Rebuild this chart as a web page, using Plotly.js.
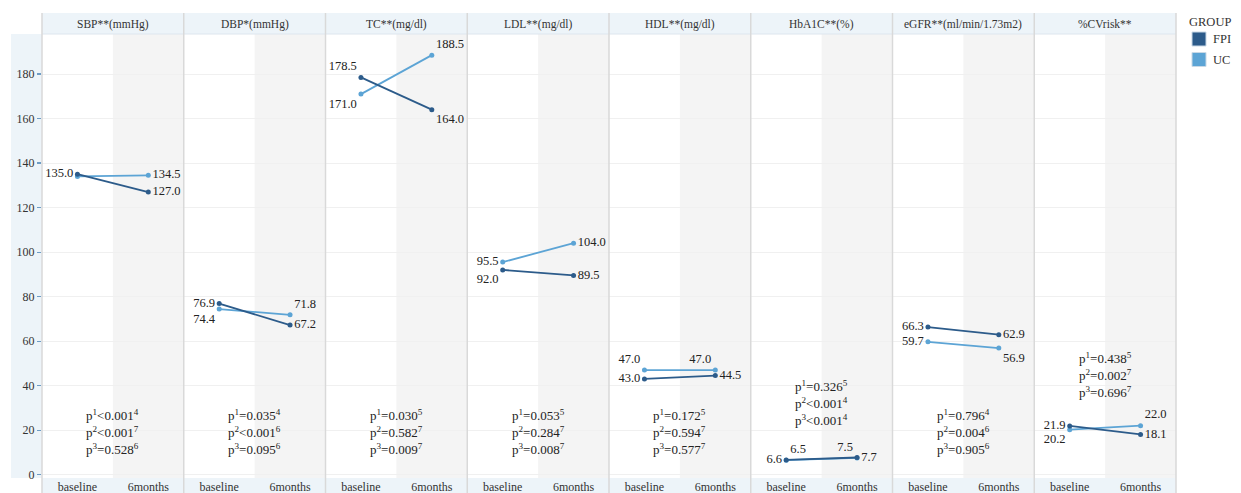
<!DOCTYPE html>
<html>
<head>
<meta charset="utf-8">
<script src="https://cdn.plot.ly/plotly-3.0.1.min.js"></script>
<style>html,body{margin:0;padding:0;background:#fff;}#chart{width:1241px;height:493px;}</style>
</head>
<body>
<div id="chart"></div>
<script>
// ---------- data ----------
const panels = ["SBP**(mmHg)", "DBP*(mmHg)", "TC**(mg/dl)", "LDL**(mg/dl)", "HDL**(mg/dl)", "HbA1C**(%)", "eGFR**(ml/min/1.73m2)", "%CVrisk**"];
const timepoints = ["baseline", "6months"];
const groups = ["FPI", "UC"];
const fpiBaseline = [135.0, 76.9, 178.5, 92.0, 43.0, 6.6, 66.3, 21.9];
const fpiMonth6   = [127.0, 67.2, 164.0, 89.5, 44.5, 7.7, 62.9, 18.1];
const ucBaseline  = [134.0, 74.4, 171.0, 95.5, 47.0, 6.5, 59.7, 20.2];
const ucMonth6    = [134.5, 71.8, 188.5, 104.0, 47.0, 7.5, 56.9, 22.0];
const ucBaselineLabelShown = [false, true, true, true, true, true, true, true];
const pValues = [
  ["p<sup>1</sup>&lt;0.001<sup>4</sup>", "p<sup>2</sup>&lt;0.001<sup>7</sup>", "p<sup>3</sup>=0.528<sup>6</sup>"],
  ["p<sup>1</sup>=0.035<sup>4</sup>", "p<sup>2</sup>&lt;0.001<sup>6</sup>", "p<sup>3</sup>=0.095<sup>6</sup>"],
  ["p<sup>1</sup>=0.030<sup>5</sup>", "p<sup>2</sup>=0.582<sup>7</sup>", "p<sup>3</sup>=0.009<sup>7</sup>"],
  ["p<sup>1</sup>=0.053<sup>5</sup>", "p<sup>2</sup>=0.284<sup>7</sup>", "p<sup>3</sup>=0.008<sup>7</sup>"],
  ["p<sup>1</sup>=0.172<sup>5</sup>", "p<sup>2</sup>=0.594<sup>7</sup>", "p<sup>3</sup>=0.577<sup>7</sup>"],
  ["p<sup>1</sup>=0.326<sup>5</sup>", "p<sup>2</sup>&lt;0.001<sup>4</sup>", "p<sup>3</sup>&lt;0.001<sup>4</sup>"],
  ["p<sup>1</sup>=0.796<sup>4</sup>", "p<sup>2</sup>=0.004<sup>6</sup>", "p<sup>3</sup>=0.905<sup>6</sup>"],
  ["p<sup>1</sup>=0.438<sup>5</sup>", "p<sup>2</sup>=0.002<sup>7</sup>", "p<sup>3</sup>=0.696<sup>7</sup>"]
];
const pValueY = [19, 19, 19, 19, 19, 32, 19, 45];
const yTicks = [0, 20, 40, 60, 80, 100, 120, 140, 160, 180];

// ---------- style ----------
const FONT = "Liberation Serif";
const colFPI = "#2c5b8a";
const colUC = "#5ca4d5";
const stripCol = "#edf4f9";
const shadeCol = "#f4f4f4";
const sepCol = "#d9d9d9";
// label positions: [fpi baseline, fpi 6m, uc baseline, uc 6m]
const labelPos = [
  ["middle left", "middle right", "middle left", "middle right"],
  ["middle left", "middle right", "bottom left", "top right"],
  ["top left", "bottom right", "bottom left", "top right"],
  ["bottom left", "middle right", "middle left", "middle right"],
  ["middle left", "middle right", "top left", "top left"],
  ["middle left", "middle right", "top right", "top left"],
  ["middle left", "middle right", "middle left", "bottom right"],
  ["middle left", "middle right", "bottom left", "top right"]
];

const n = panels.length;
const traces = [];
const layout = {
  width: 1241, height: 493,
  margin: {l: 42, r: 65, t: 34, b: 15},
  paper_bgcolor: "#fff", plot_bgcolor: "#fff",
  showlegend: false,
  font: {family: FONT, size: 12, color: "#333"},
  shapes: [], annotations: [],
  yaxis: {
    range: [-1.5, 198], tickvals: yTicks, ticks: "outside", ticklen: 4, tickwidth: 1.2,
    tickcolor: "#6e9cc4", showgrid: true, gridcolor: "#f0f0f0", gridwidth: 1,
    zeroline: false, showline: false, tickfont: {family: FONT, size: 12, color: "#333"},
    anchor: "x"
  }
};

const pxX = X => (X - 42) / 1134;
const pxY = Y => (478 - Y) / 444;

// left y strip, header strip, bottom strip
layout.shapes.push({type: "rect", xref: "paper", yref: "paper", x0: pxX(11), x1: 0, y0: 0, y1: 1, fillcolor: stripCol, line: {width: 0}, layer: "below"});
layout.shapes.push({type: "rect", xref: "paper", yref: "paper", x0: 0, x1: 1, y0: 1, y1: pxY(13), fillcolor: stripCol, line: {width: 0}, layer: "below"});
layout.shapes.push({type: "rect", xref: "paper", yref: "paper", x0: 0, x1: 1, y0: pxY(493), y1: 0, fillcolor: stripCol, line: {width: 0}, layer: "below"});
layout.shapes.push({type: "line", xref: "paper", yref: "paper", x0: 0, x1: 1, y0: 1, y1: 1, line: {color: "#dde6ee", width: 1}});

for (let i = 0; i < n; i++) {
  const ax = i === 0 ? "x" : "x" + (i + 1);
  const axKey = i === 0 ? "xaxis" : "xaxis" + (i + 1);
  layout[axKey] = {
    domain: [i / n, (i + 1) / n], type: "category", categoryarray: timepoints, categoryorder: "array",
    range: [-0.5, 1.5], showgrid: false, zeroline: false, showline: false, ticks: "",
    tickfont: {family: FONT, size: 12, color: "#333"}, anchor: "y", fixedrange: true
  };
  // shaded 6months half
  layout.shapes.push({type: "rect", xref: ax, yref: "paper", x0: 0.5, x1: 1.5, y0: 0, y1: 1, fillcolor: shadeCol, line: {width: 0}, layer: "below"});
  // panel separators
  layout.shapes.push({type: "line", xref: "paper", yref: "paper", x0: i / n, x1: i / n, y0: pxY(493), y1: pxY(13), line: {color: sepCol, width: 1.5}});
  if (i === n - 1) layout.shapes.push({type: "line", xref: "paper", yref: "paper", x0: 1, x1: 1, y0: pxY(493), y1: pxY(13), line: {color: sepCol, width: 1.5}});
  // strip title
  layout.annotations.push({xref: "paper", yref: "paper", x: (i + 0.5) / n, y: pxY(24), text: panels[i], showarrow: false, xanchor: "center", yanchor: "middle", font: {family: FONT, size: 11.5, color: "#333"}});
  // p-values
  layout.annotations.push({xref: ax, yref: "y", x: 0.5, y: pValueY[i], text: pValues[i].join("<br>"), showarrow: false, align: "center", xanchor: "center", yanchor: "middle", font: {family: FONT, size: 13, color: "#222"}});

  const ya = "y";
  traces.push({
    type: "scatter", mode: "lines+markers+text", xaxis: ax, yaxis: ya,
    x: timepoints, y: [ucBaseline[i], ucMonth6[i]],
    text: [ucBaselineLabelShown[i] ? ucBaseline[i].toFixed(1) : "", ucMonth6[i].toFixed(1)],
    textposition: [labelPos[i][2], labelPos[i][3]],
    textfont: {family: FONT, size: 12.5, color: "#222"},
    line: {color: colUC, width: 1.8}, marker: {color: colUC, size: 5}, name: groups[1], cliponaxis: false, hoverinfo: "skip"
  });
  traces.push({
    type: "scatter", mode: "lines+markers+text", xaxis: ax, yaxis: ya,
    x: timepoints, y: [fpiBaseline[i], fpiMonth6[i]],
    text: [fpiBaseline[i].toFixed(1), fpiMonth6[i].toFixed(1)],
    textposition: [labelPos[i][0], labelPos[i][1]],
    textfont: {family: FONT, size: 12.5, color: "#222"},
    line: {color: colFPI, width: 1.8}, marker: {color: colFPI, size: 5}, name: groups[0], cliponaxis: false, hoverinfo: "skip"
  });
}

// legend (manual)
layout.annotations.push({xref: "paper", yref: "paper", x: pxX(1187), y: pxY(22), text: "GROUP", showarrow: false, xanchor: "left", yanchor: "middle", font: {family: FONT, size: 12.5, color: "#333"}});
const legCols = [colFPI, colUC];
const legTop = [32, 52.5];
for (let g = 0; g < groups.length; g++) {
  layout.shapes.push({type: "rect", xref: "paper", yref: "paper", x0: pxX(1192), x1: pxX(1206), y0: pxY(legTop[g] + 14), y1: pxY(legTop[g]), fillcolor: legCols[g], line: {color: "#c9d9e6", width: 1}});
  layout.annotations.push({xref: "paper", yref: "paper", x: pxX(1211), y: pxY(legTop[g] + 7), text: groups[g], showarrow: false, xanchor: "left", yanchor: "middle", font: {family: FONT, size: 12.5, color: "#333"}});
}

Plotly.newPlot("chart", traces, layout, {displayModeBar: false, staticPlot: true});
</script>
</body>
</html>
